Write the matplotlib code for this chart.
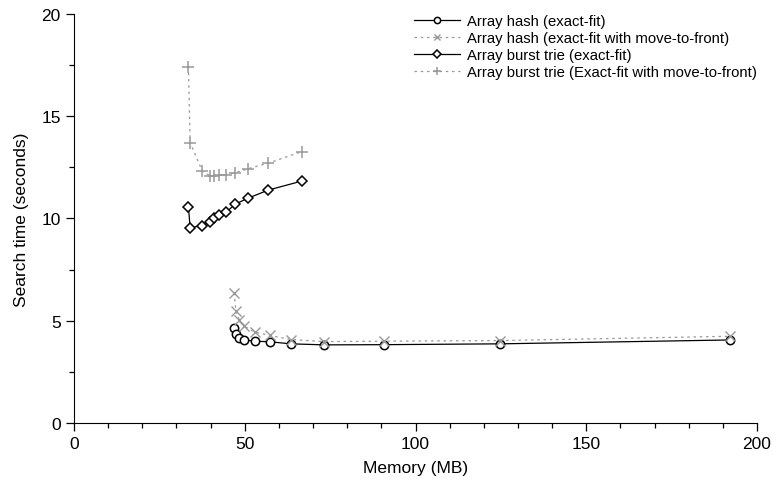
import matplotlib
matplotlib.use("Agg")
import matplotlib.pyplot as plt
from matplotlib.ticker import MultipleLocator

plt.rcParams['font.family'] = ['Liberation Sans', 'DejaVu Sans']

# Array hash
hash_mem = [46.9, 47.4, 48.4, 49.9, 53.0, 57.4, 63.5, 73.3, 90.9, 124.7, 192.1]
hash_exact = [4.65, 4.36, 4.16, 4.06, 4.00, 3.97, 3.87, 3.82, 3.83, 3.87, 4.06]
hash_mtf = [6.37, 5.47, 5.05, 4.73, 4.44, 4.28, 4.08, 3.98, 4.00, 4.03, 4.24]

# Array burst trie
trie_mem = [33.5, 34.0, 37.6, 39.8, 41.1, 42.5, 44.5, 47.2, 50.9, 56.9, 66.7]
trie_exact = [10.55, 9.55, 9.65, 9.84, 10.00, 10.16, 10.30, 10.70, 10.99, 11.39, 11.83]
trie_mtf = [17.43, 13.70, 12.30, 12.09, 12.10, 12.12, 12.15, 12.24, 12.43, 12.71, 13.27]

labels = ["Array hash (exact-fit)",
          "Array hash (exact-fit with move-to-front)",
          "Array burst trie (exact-fit)",
          "Array burst trie (Exact-fit with move-to-front)"]

fig = plt.figure(figsize=(7.72, 4.85), dpi=100)
ax = fig.add_axes([0.0959, 0.1258, 0.8847, 0.8433])

gray = '#999999'
ax.plot(hash_mem, hash_exact, color='black', lw=0.9, marker='o', ms=6,
        mfc='white', mec='black', mew=1.1, label=labels[0])
ax.plot(hash_mem, hash_mtf, color=gray, lw=0.9, ls=(0, (2, 3)), marker='x', ms=6.5,
        mec=gray, mew=1.0, label=labels[1])
ax.plot(trie_mem, trie_exact, color='black', lw=0.9, marker='D', ms=5,
        mfc='white', mec='black', mew=1.1, label=labels[2])
ax.plot(trie_mem, trie_mtf, color=gray, lw=0.9, ls=(0, (2, 3)), marker='+', ms=8,
        mec=gray, mew=1.1, label=labels[3])

ax.set_xlim(0, 200)
ax.set_ylim(0, 20)
ax.xaxis.set_major_locator(MultipleLocator(50))
ax.xaxis.set_minor_locator(MultipleLocator(10))
ax.yaxis.set_major_locator(MultipleLocator(5))
ax.yaxis.set_minor_locator(MultipleLocator(2.5))
ax.spines['top'].set_visible(False)
ax.spines['right'].set_visible(False)
ax.tick_params(which='major', length=6, width=0.9, labelsize=12.5, direction='out')
ax.tick_params(which='minor', length=3.5, width=0.9, direction='out')

ax.set_xlabel("Memory (MB)", fontsize=12.5, labelpad=6)
ax.set_ylabel("Search time (seconds)", fontsize=12.5, labelpad=9)

ax.legend(loc='upper right', bbox_to_anchor=(1.02, 1.032), frameon=False, fontsize=10.7,
          handlelength=3.1, handletextpad=0.5, labelspacing=0.2, markerscale=0.75)

fig.savefig("out.png", dpi=100)
